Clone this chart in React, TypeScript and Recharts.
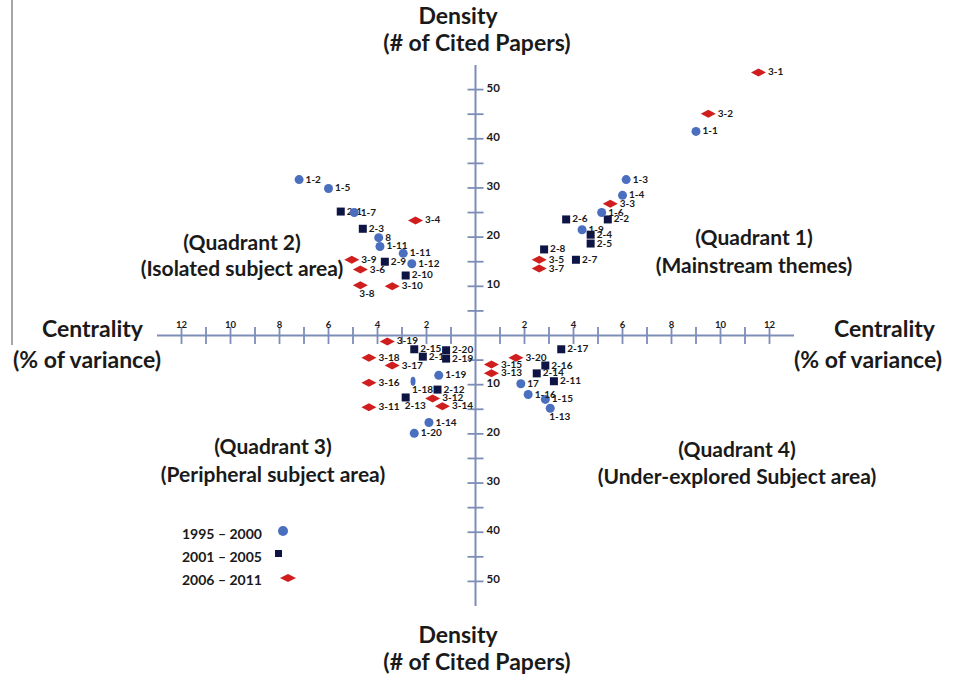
import React from 'react';
import { ScatterChart, Scatter, XAxis, YAxis, ReferenceLine } from 'recharts';

const FONT = 'Lato, "Open Sans", Arial, sans-serif';
const BLUE = '#4A6FBE';
const NAVY = '#0E1544';
const RED = '#D01E1E';
const AXIS = '#7D8DB8';
const INK = '#1A1A1A';

// 1995 - 2000 (circles)
const period1 = [
  { name: '1-1', x: 9.0, y: 41.5 },
  { name: '1-2', x: -7.2, y: 31.7 },
  { name: '1-3', x: 6.15, y: 31.7 },
  { name: '1-4', x: 6.0, y: 28.5 },
  { name: '1-5', x: -6.0, y: 29.9 },
  { name: '1-6', x: 5.15, y: 25.0 },
  { name: '1-7', x: -4.95, y: 25.0 },
  { name: '8', x: -3.95, y: 19.9 },
  { name: '1-9', x: 4.35, y: 21.5 },
  { name: '1-11', x: -3.9, y: 18.1 },
  { name: '1-11', x: -2.95, y: 16.7 },
  { name: '1-12', x: -2.6, y: 14.6 },
  { name: '1-13', x: 3.05, y: -14.8 },
  { name: '1-14', x: -1.9, y: -17.7 },
  { name: '1-15', x: 2.85, y: -13.0 },
  { name: '1-16', x: 2.15, y: -12.0 },
  { name: '17', x: 1.85, y: -9.8 },
  { name: '1-18', x: -2.55, y: -9.3 },
  { name: '1-19', x: -1.5, y: -8.1 },
  { name: '1-20', x: -2.5, y: -19.9 },
];

// 2001 - 2005 (squares)
const period2 = [
  { name: '2-1', x: -5.5, y: 25.2 },
  { name: '2-2', x: 5.4, y: 23.6 },
  { name: '2-3', x: -4.6, y: 21.7 },
  { name: '2-4', x: 4.7, y: 20.5 },
  { name: '2-5', x: 4.7, y: 18.7 },
  { name: '2-6', x: 3.7, y: 23.6 },
  { name: '2-7', x: 4.1, y: 15.4 },
  { name: '2-8', x: 2.8, y: 17.5 },
  { name: '2-9', x: -3.7, y: 15.0 },
  { name: '2-10', x: -2.85, y: 12.2 },
  { name: '2-11', x: 3.2, y: -9.3 },
  { name: '2-12', x: -1.55, y: -11.0 },
  { name: '2-13', x: -2.85, y: -12.6 },
  { name: '2-14', x: 2.5, y: -7.7 },
  { name: '2-15', x: -2.5, y: -2.8 },
  { name: '2-1', x: -2.15, y: -4.3 },
  { name: '2-16', x: 2.85, y: -6.1 },
  { name: '2-17', x: 3.5, y: -2.8 },
  { name: '2-19', x: -1.2, y: -4.7 },
  { name: '2-20', x: -1.2, y: -3.0 },
];

// 2006 - 2011 (diamonds)
const period3 = [
  { name: '3-1', x: 11.55, y: 53.5 },
  { name: '3-2', x: 9.5, y: 45.1 },
  { name: '3-3', x: 5.5, y: 26.8 },
  { name: '3-4', x: -2.45, y: 23.4 },
  { name: '3-5', x: 2.6, y: 15.4 },
  { name: '3-6', x: -4.7, y: 13.4 },
  { name: '3-7', x: 2.6, y: 13.6 },
  { name: '3-8', x: -4.7, y: 10.2 },
  { name: '3-9', x: -5.05, y: 15.4 },
  { name: '3-10', x: -3.4, y: 10.0 },
  { name: '3-11', x: -4.35, y: -14.6 },
  { name: '3-12', x: -1.75, y: -12.8 },
  { name: '3-13', x: 0.65, y: -7.7 },
  { name: '3-14', x: -1.35, y: -14.4 },
  { name: '3-15', x: 0.65, y: -5.9 },
  { name: '3-16', x: -4.35, y: -9.6 },
  { name: '3-17', x: -3.4, y: -6.1 },
  { name: '3-18', x: -4.35, y: -4.5 },
  { name: '3-19', x: -3.6, y: -1.2 },
  { name: '3-20', x: 1.65, y: -4.5 },
];

const xTicks = [-12, -11, -10, -9, -8, -7, -6, -5, -4, -3, -2, -1, 1, 2, 3, 4, 5, 6, 7, 8, 9, 10, 11, 12];
const xTickLabels = [-12, -10, -8, -6, -4, -2, 2, 4, 6, 8, 10, 12];
const yTicks = [-50, -45, -40, -35, -30, -25, -20, -15, -10, -5, 5, 10, 15, 20, 25, 30, 35, 40, 45, 50];
const yTickLabels = [-50, -40, -30, -20, -10, 10, 20, 30, 40, 50];

const legendItems = ['1995 – 2000', '2001 – 2005', '2006 – 2011'];

// labels that sit under their marker instead of to the right
const below = new Set(['3-8', '1-18', '2-13', '1-13']);

const labelStyle = { fontFamily: FONT, fontSize: 10, fontWeight: 700, fill: INK };

function PointLabel({ cx, cy, name, half }: any) {
  const under = below.has(name);
  return (
    <text x={under ? cx - 1 : cx + half + 2} y={under ? cy + 12 : cy + 3} style={labelStyle}>
      {name}
    </text>
  );
}

const CircleShape = (p: any) => {
  const { cx, cy, payload } = p;
  const thin = payload.name === '1-18';
  return (
    <g>
      {thin ? <ellipse cx={cx} cy={cy} rx={2.5} ry={4.5} fill={BLUE} /> : <circle cx={cx} cy={cy} r={4.5} fill={BLUE} />}
      <PointLabel cx={cx} cy={cy} name={payload.name} half={4.5} />
    </g>
  );
};

const SquareShape = (p: any) => {
  const { cx, cy, payload } = p;
  return (
    <g>
      <rect x={cx - 4} y={cy - 4} width={8} height={8} fill={NAVY} />
      <PointLabel cx={cx} cy={cy} name={payload.name} half={4} />
    </g>
  );
};

const DiamondShape = (p: any) => {
  const { cx, cy, payload } = p;
  return (
    <g>
      <polygon points={`${cx - 7.5},${cy} ${cx},${cy - 4} ${cx + 7.5},${cy} ${cx},${cy + 4}`} fill={RED} />
      <PointLabel cx={cx} cy={cy} name={payload.name} half={7.5} />
    </g>
  );
};

const XTickMark = ({ cx, cy }: any) => <line x1={cx} x2={cx} y1={cy - 8.5} y2={cy + 8.5} stroke={AXIS} strokeWidth={1.8} />;
const YTickMark = ({ cx, cy }: any) => <line x1={cx - 8} x2={cx + 8} y1={cy} y2={cy} stroke={AXIS} strokeWidth={1.8} />;
const XTickText = ({ cx, cy, payload }: any) => (
  <text x={cx} y={cy - 8} textAnchor="middle" style={{ fontFamily: FONT, fontSize: 9.5, fontWeight: 700, fill: INK }}>
    {Math.abs(payload.x)}
  </text>
);
const YTickText = ({ cx, cy, payload }: any) => (
  <text x={cx + 11} y={cy + 2} style={{ fontFamily: FONT, fontSize: 11.5, fontWeight: 700, fill: INK }}>
    {Math.abs(payload.y)}
  </text>
);

const big = { fontFamily: FONT, fontSize: 23, fontWeight: 700, fill: INK } as const;
const quad = { fontFamily: FONT, fontSize: 21, fontWeight: 700, fill: INK } as const;

export default function App() {
  return (
    <div style={{ position: 'absolute', left: 0, top: 0, width: 958, height: 678, background: '#fff' }}>
      <ScatterChart width={958} height={678} margin={{ top: 65, right: 164, bottom: 72, left: 157 }}>
        <XAxis type="number" dataKey="x" domain={[-13, 13]} hide allowDataOverflow />
        <YAxis type="number" dataKey="y" domain={[-55, 55]} hide allowDataOverflow />
        <ReferenceLine x={0} stroke={AXIS} strokeWidth={2} />
        <ReferenceLine y={0} stroke={AXIS} strokeWidth={2} />
        <Scatter data={xTicks.map((v) => ({ x: v, y: 0 }))} shape={XTickMark} isAnimationActive={false} />
        <Scatter data={yTicks.map((v) => ({ x: 0, y: v }))} shape={YTickMark} isAnimationActive={false} />
        <Scatter data={xTickLabels.map((v) => ({ x: v, y: 0 }))} shape={XTickText} isAnimationActive={false} />
        <Scatter data={yTickLabels.map((v) => ({ x: 0, y: v }))} shape={YTickText} isAnimationActive={false} />
        <Scatter name="2001 – 2005" data={period2} shape={SquareShape} isAnimationActive={false} />
        <Scatter name="1995 – 2000" data={period1} shape={CircleShape} isAnimationActive={false} />
        <Scatter name="2006 – 2011" data={period3} shape={DiamondShape} isAnimationActive={false} />
      </ScatterChart>
      <svg width={958} height={678} style={{ position: 'absolute', left: 0, top: 0, pointerEvents: 'none' }}>
        <line x1={12} x2={12} y1={0} y2={345} stroke="#888" strokeWidth={1.5} />
        <text x={458} y={24} textAnchor="middle" style={big}>Density</text>
        <text x={477} y={51} textAnchor="middle" style={big}>(# of Cited Papers)</text>
        <text x={458} y={643} textAnchor="middle" style={big}>Density</text>
        <text x={477} y={670} textAnchor="middle" style={big}>(# of Cited Papers)</text>
        <text x={42} y={337} style={big}>Centrality</text>
        <text x={13} y={368} style={big}>(% of variance)</text>
        <text x={834} y={337} style={big}>Centrality</text>
        <text x={794} y={368} style={big}>(% of variance)</text>

        <text x={242} y={250} textAnchor="middle" style={quad}>(Quadrant 2)</text>
        <text x={242} y={276} textAnchor="middle" style={quad}>(Isolated subject area)</text>
        <text x={754} y={245} textAnchor="middle" style={quad}>(Quadrant 1)</text>
        <text x={754} y={273} textAnchor="middle" style={quad}>(Mainstream themes)</text>
        <text x={273} y={454} textAnchor="middle" style={quad}>(Quadrant 3)</text>
        <text x={273} y={482} textAnchor="middle" style={quad}>(Peripheral subject area)</text>
        <text x={737} y={457} textAnchor="middle" style={quad}>(Quadrant 4)</text>
        <text x={737} y={484} textAnchor="middle" style={quad}>(Under-explored Subject area)</text>

        {legendItems.map((t, i) => (
          <text key={t} x={182} y={539 + i * 23} style={{ fontFamily: FONT, fontSize: 14, fontWeight: 700, fill: INK }}>{t}</text>
        ))}
        <circle cx={283} cy={531} r={5} fill={BLUE} />
        <rect x={275} y={550} width={7} height={7} fill={NAVY} />
        <polygon points="280,578 288,574 296,578 288,582" fill={RED} />
      </svg>
    </div>
  );
}
